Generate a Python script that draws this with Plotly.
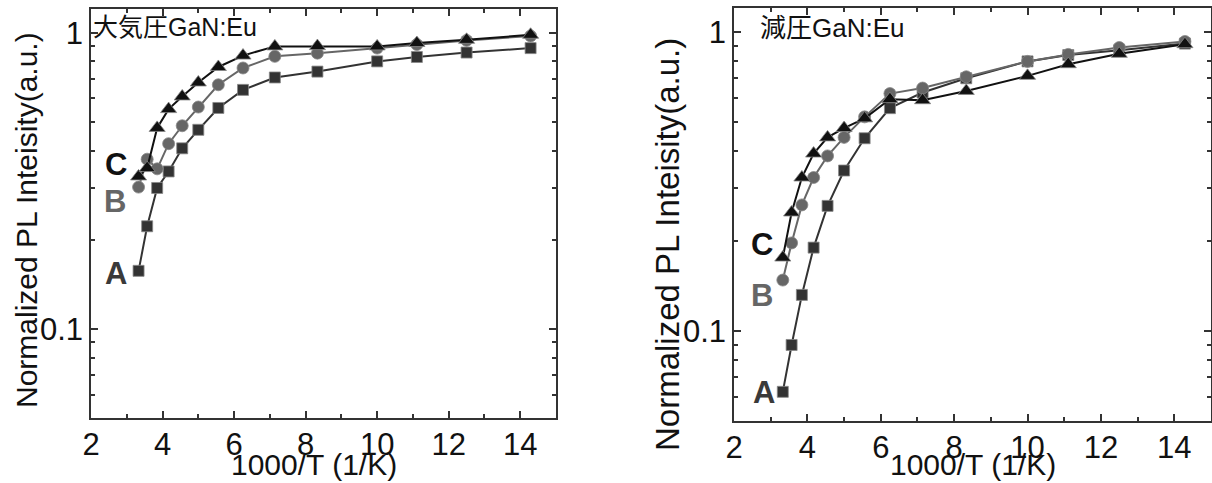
import plotly.graph_objects as go

# 1000/T values (T = 300 ... 70 K)
x_vals = [3.33, 3.57, 3.85, 4.17, 4.55, 5.0, 5.56, 6.25, 7.14, 8.33, 10.0, 11.11, 12.5, 14.29]

# Left panel: 大気圧GaN:Eu
left_A = [0.157, 0.222, 0.299, 0.340, 0.407, 0.470, 0.557, 0.641, 0.706, 0.739, 0.800, 0.828, 0.857, 0.887]
left_B = [0.301, 0.374, 0.347, 0.422, 0.485, 0.561, 0.667, 0.760, 0.832, 0.853, 0.887, 0.912, 0.942, 0.975]
left_C = [0.327, 0.349, 0.477, 0.552, 0.609, 0.679, 0.766, 0.837, 0.899, 0.901, 0.899, 0.923, 0.946, 0.984]

# Right panel: 減圧GaN:Eu
right_A = [0.0626, 0.0898, 0.132, 0.190, 0.262, 0.344, 0.441, 0.556, 0.627, 0.700, 0.797, 0.837, 0.869, 0.914]
right_B = [0.148, 0.197, 0.264, 0.326, 0.385, 0.444, 0.520, 0.622, 0.649, 0.708, 0.797, 0.841, 0.887, 0.929]
right_C = [0.176, 0.249, 0.326, 0.392, 0.444, 0.477, 0.514, 0.596, 0.591, 0.635, 0.713, 0.780, 0.845, 0.910]

panel_titles = ["大気圧GaN:Eu", "減圧GaN:Eu"]
x_title = "1000/T (1/K)"
y_title = "Normalized PL Inteisity(a.u.)"
x_tick_vals = [2, 4, 6, 8, 10, 12, 14]
x_minor_vals = [3, 5, 7, 9, 11, 13, 15]
y_tick_vals = [0.1, 1]
y_tick_text = ["0.1", "1"]
y_minor_vals = [0.05, 0.06, 0.07, 0.08, 0.09, 0.2, 0.3, 0.4, 0.5, 0.6, 0.7, 0.8, 0.9]

W, H = 1212, 483
FONT = "Liberation Sans, Arial, Noto Sans CJK JP"
AX = "#333333"

styles = {
    "A": dict(color="#333333", symbol="square", size=11, line="#333333"),
    "B": dict(color="#666666", symbol="circle", size=12, line="#666666"),
    "C": dict(color="#111111", symbol="triangle-up", size=14, line="#111111"),
}

fig = go.Figure()

def add_series(ys, key, xa, ya):
    s = styles[key]
    fig.add_trace(go.Scatter(
        x=x_vals, y=ys, mode="lines+markers", xaxis=xa, yaxis=ya,
        line=dict(color=s["line"], width=2),
        marker=dict(symbol=s["symbol"], size=s["size"], color=s["color"],
                    line=dict(color="#888888", width=0.8)),
        showlegend=False, hoverinfo="skip"))

for ys, k in [(left_A, "A"), (left_B, "B"), (left_C, "C")]:
    add_series(ys, k, "x", "y")
for ys, k in [(right_A, "A"), (right_B, "B"), (right_C, "C")]:
    add_series(ys, k, "x2", "y2")

def xaxis(domain, anchor):
    return dict(domain=domain, anchor=anchor, range=[2, 15], automargin=False,
                tickmode="array", tickvals=x_tick_vals, ticks="inside", ticklen=7,
                tickwidth=1.5, tickcolor=AX, showline=True, linecolor=AX, linewidth=1.5,
                mirror="allticks", showgrid=False, zeroline=False, ticklabelstandoff=-2,
                tickfont=dict(family=FONT, size=31, color="#111111"),
                minor=dict(tickmode="array", tickvals=x_minor_vals, ticks="inside",
                           ticklen=4, tickwidth=1.5, tickcolor=AX, showgrid=False))

def yaxis(domain, anchor):
    return dict(domain=domain, anchor=anchor, type="log", range=[-1.301, 0.08],
                automargin=False, tickmode="array", tickvals=y_tick_vals,
                ticktext=y_tick_text, ticks="inside", ticklen=7, tickwidth=1.5,
                tickcolor=AX, showline=True, linecolor=AX, linewidth=1.5,
                mirror="allticks", showgrid=False, zeroline=False,
                tickfont=dict(family=FONT, size=31, color="#111111"),
                minor=dict(tickmode="array", tickvals=y_minor_vals, ticks="inside",
                           ticklen=4, tickwidth=1.5, tickcolor=AX, showgrid=False))

fig.update_layout(
    width=W, height=H, margin=dict(l=0, r=0, t=0, b=0),
    paper_bgcolor="white", plot_bgcolor="white", template="none",
    xaxis=xaxis([91 / W, 556 / W], "y"),
    yaxis=yaxis([1 - 418 / H, 1 - 9 / H], "x"),
    xaxis2=xaxis([734 / W, 1211 / W], "y2"),
    yaxis2=yaxis([1 - 421 / H, 1 - 8 / H], "x2"),
)

def ann(text, x, y, size, color="#111111", bold=False, angle=0, xanchor="center"):
    fig.add_annotation(text=("<b>%s</b>" % text) if bold else text,
                       x=x / W, y=1 - y / H, xref="paper", yref="paper",
                       xanchor=xanchor, yanchor="middle", showarrow=False, textangle=angle,
                       font=dict(family=FONT, size=size, color=color))

# axis titles
ann(x_title, 314, 464, 30)
ann(x_title, 973, 464, 30)
ann(y_title, 26, 220, 30, angle=-90)
ann(y_title, 667, 245, 33, angle=-90)

# panel titles
ann(panel_titles[0], 91, 27, 25, xanchor="left")
ann(panel_titles[1], 758, 28, 26, xanchor="left")

# series labels
ann("C", 116, 164, 31, color="#111111", bold=True)
ann("B", 115, 201, 31, color="#666666", bold=True)
ann("A", 116, 273, 31, color="#3a3a3a", bold=True)
ann("C", 762, 244, 31, color="#111111", bold=True)
ann("B", 762, 295, 31, color="#666666", bold=True)
ann("A", 764, 392, 31, color="#3a3a3a", bold=True)

fig.write_html("out.html")
